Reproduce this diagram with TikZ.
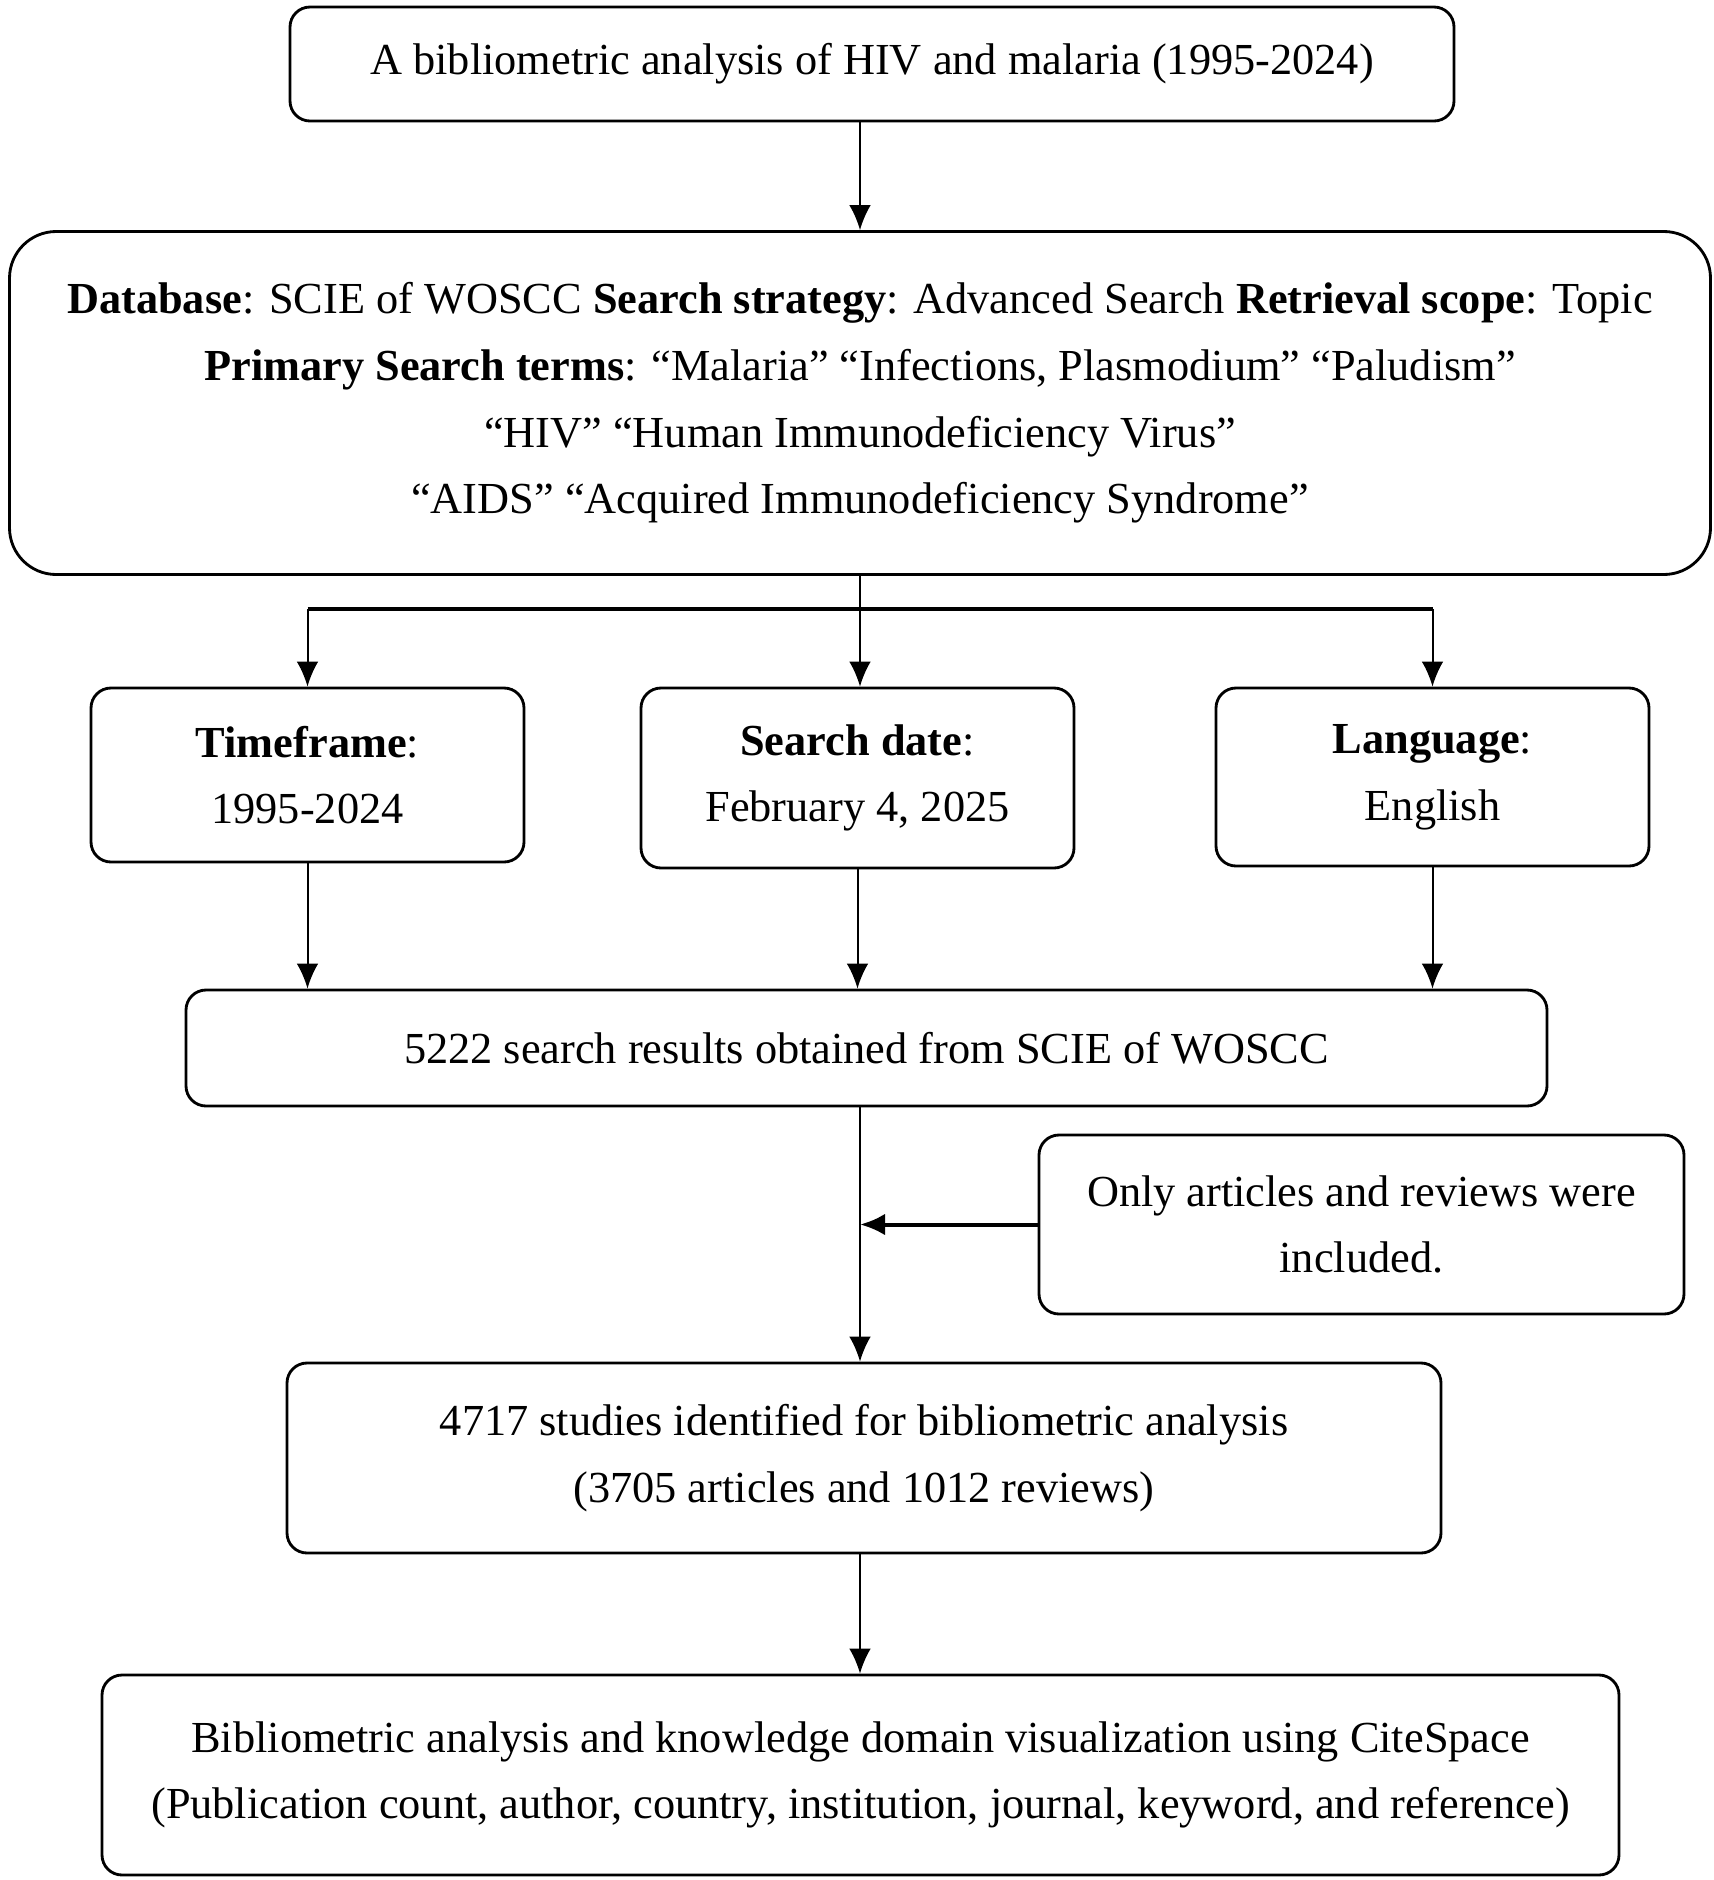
\documentclass[tikz,border=0pt]{standalone}
\usepackage{fontspec}
\setmainfont{Liberation Serif}
\usetikzlibrary{arrows.meta}

\tikzset{
  blk/.style={draw, line width=0.85pt, rounded corners=6pt, align=center, inner sep=2pt,
    font={\fontsize{13.3pt}{20pt}\selectfont}},
  arr/.style={line width=0.6pt, -{Latex[length=7.5pt,width=6.5pt]}}
}

\begin{document}
\begin{tikzpicture}[x=0.3pt, y=-0.3pt]
    \useasboundingbox (0,0) rectangle (1713,1880) ;
    \node[blk, minimum width=349.2pt, minimum height=34.2pt] at (872,64) (title) {A bibliometric analysis of HIV and malaria (1995-2024)} ;
    \node[blk, rounded corners=14pt, minimum width=510.3pt, minimum height=102.9pt] at (860,403) (search)
      {\textbf{Database}: SCIE of WOSCC \textbf{Search strategy}: Advanced Search \textbf{Retrieval scope}: Topic\\
       \textbf{Primary Search terms}: “Malaria” “Infections, Plasmodium” “Paludism”\\
       “HIV” “Human Immunodeficiency Virus”\\
       “AIDS” “Acquired Immunodeficiency Syndrome”} ;
    \node[blk, minimum width=129.9pt, minimum height=52.2pt] at (307.5,775) (time) {\textbf{Timeframe}:\\1995-2024} ;
    \node[blk, minimum width=129.9pt, minimum height=54pt] at (857.5,778) (date) {\textbf{Search date}:\\February 4, 2025} ;
    \node[blk, minimum width=129.9pt, minimum height=53.4pt] at (1432.5,777) (lang) {\textbf{Language}:\\English} ;
    \node[blk, minimum width=408.3pt, minimum height=34.8pt] at (866.5,1048) (results) {5222 search results obtained from SCIE of WOSCC} ;
    \node[blk, minimum width=193.5pt, minimum height=53.7pt] at (1361.5,1224.5) (filter) {Only articles and reviews were\\included.} ;
    \node[blk, minimum width=346.2pt, minimum height=57pt] at (864,1458) (studies) {4717 studies identified for bibliometric analysis\\(3705 articles and 1012 reviews)} ;
    \node[blk, minimum width=455.1pt, minimum height=60pt] at (860.5,1775) (final) {Bibliometric analysis and knowledge domain visualization using CiteSpace\\(Publication count, author, country, institution, journal, keyword, and reference)} ;
    \coordinate (split) at (860,609) ;
    \coordinate (join) at (860,1224.5) ;
    \draw[arr] (search.north |- title.south) -- (search.north) ;
    \draw[line width=0.6pt] (search.south) -- (split) ;
    \draw[line width=1pt] (split -| time.north) -- (split -| lang.north) ;
    \draw[arr] (split -| time.north) -- (time.north) ;
    \draw[arr] (split) -- (split |- date.north) ;
    \draw[arr] (split -| lang.north) -- (lang.north) ;
    \draw[arr] (time.south) -- (time.south |- results.north) ;
    \draw[arr] (date.south) -- (date.south |- results.north) ;
    \draw[arr] (lang.south) -- (lang.south |- results.north) ;
    \draw[arr] (join |- results.south) -- (join |- studies.north) ;
    \draw[arr, line width=1.2pt] (filter.west) -- (join) ;
    \draw[arr] (join |- studies.south) -- (join |- final.north) ;
  \end{tikzpicture}
\end{document}
